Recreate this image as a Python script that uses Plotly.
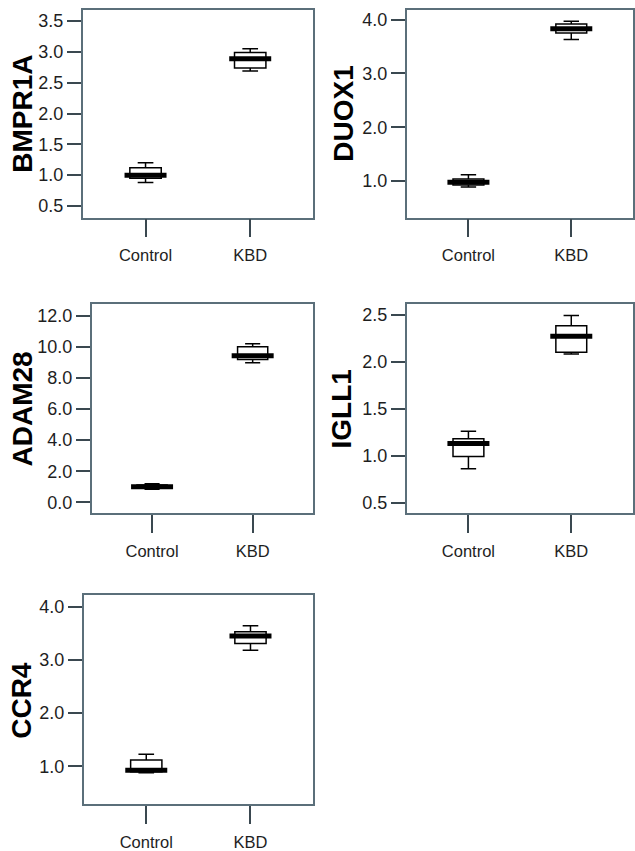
import plotly.graph_objects as go

# ---- data ----
genes = ["BMPR1A", "DUOX1", "ADAM28", "IGLL1", "CCR4"]
groups = ["Control", "KBD"]

lower_whisker = {
    "BMPR1A": [0.88, 2.69],
    "DUOX1": [0.89, 3.63],
    "ADAM28": [0.85, 8.97],
    "IGLL1": [0.86, 2.08],
    "CCR4": [0.88, 3.18],
}
q1_values = {
    "BMPR1A": [0.95, 2.74],
    "DUOX1": [0.93, 3.75],
    "ADAM28": [0.92, 9.18],
    "IGLL1": [0.99, 2.10],
    "CCR4": [0.90, 3.31],
}
median_values = {
    "BMPR1A": [1.00, 2.89],
    "DUOX1": [0.98, 3.83],
    "ADAM28": [1.00, 9.42],
    "IGLL1": [1.13, 2.27],
    "CCR4": [0.93, 3.45],
}
q3_values = {
    "BMPR1A": [1.12, 2.99],
    "DUOX1": [1.04, 3.92],
    "ADAM28": [1.12, 10.00],
    "IGLL1": [1.18, 2.38],
    "CCR4": [1.12, 3.53],
}
upper_whisker = {
    "BMPR1A": [1.20, 3.05],
    "DUOX1": [1.12, 3.97],
    "ADAM28": [1.20, 10.20],
    "IGLL1": [1.26, 2.49],
    "CCR4": [1.23, 3.64],
}
y_ticks = {
    "BMPR1A": [0.5, 1.0, 1.5, 2.0, 2.5, 3.0, 3.5],
    "DUOX1": [1.0, 2.0, 3.0, 4.0],
    "ADAM28": [0.0, 2.0, 4.0, 6.0, 8.0, 10.0, 12.0],
    "IGLL1": [0.5, 1.0, 1.5, 2.0, 2.5],
    "CCR4": [1.0, 2.0, 3.0, 4.0],
}

# ---- layout / style ----
W, H = 635, 851
y_ranges = {
    "BMPR1A": [0.31, 3.68],
    "DUOX1": [0.32, 4.18],
    "ADAM28": [-0.68, 12.74],
    "IGLL1": [0.39, 2.61],
    "CCR4": [0.29, 4.21],
}
# pixel boxes (left, right, top, bottom)
panels = {
    "BMPR1A": (83, 314, 10, 219),
    "DUOX1": (408, 635, 10, 219),
    "ADAM28": (92, 314, 306, 516),
    "IGLL1": (408, 635, 306, 516),
    "CCR4": (84, 314, 599, 809),
}
title_x = {"BMPR1A": 23, "DUOX1": 345, "ADAM28": 23, "IGLL1": 343, "CCR4": 22}

FONT = "Liberation Sans, Arial, Helvetica, sans-serif"
FRAME = "#5b6f7a"
TEXT = "#1e1e1e"

fig = go.Figure()
layout = dict(
    width=W, height=H,
    margin=dict(l=0, r=0, t=0, b=0),
    paper_bgcolor="white", plot_bgcolor="white",
    showlegend=False,
    font=dict(family=FONT, color=TEXT),
    annotations=[],
)

for i, g in enumerate(genes):
    n = "" if i == 0 else str(i + 1)
    xa, ya = "x" + n, "y" + n
    l, r, t, b = panels[g]
    fig.add_trace(go.Box(
        x=groups,
        q1=q1_values[g], median=median_values[g], q3=q3_values[g],
        lowerfence=lower_whisker[g], upperfence=upper_whisker[g],
        xaxis=xa, yaxis=ya,
        fillcolor="white",
        line=dict(color="black", width=1.5),
        width=0.3, whiskerwidth=0.5,
        boxpoints=False, hoverinfo="skip",
    ))
    # thick SPSS-style median bar
    fig.add_trace(go.Scatter(
        x=groups, y=median_values[g], xaxis=xa, yaxis=ya,
        mode="markers",
        marker=dict(symbol="line-ew", size=30,
                    line=dict(color="black", width=5)),
        hoverinfo="skip",
    ))
    layout["xaxis" + n] = dict(
        domain=[l / W, r / W], anchor=ya,
        type="category", range=[-0.6, 1.6],
        showline=True, mirror=True, linecolor=FRAME, linewidth=1.5,
        ticks="outside", ticklen=18, tickwidth=1.5, tickcolor="#3a4850",
        showgrid=False, zeroline=False,
        tickfont=dict(family=FONT, size=16.5, color=TEXT),
        ticklabelstandoff=4,
        fixedrange=True,
    )
    layout["yaxis" + n] = dict(
        domain=[1 - b / H, 1 - t / H], anchor=xa,
        range=y_ranges[g],
        tickvals=y_ticks[g], tickformat=".1f",
        showline=True, mirror=True, linecolor=FRAME, linewidth=1.5,
        ticks="outside", ticklen=14, tickwidth=1.5, tickcolor="#3a4850",
        showgrid=False, zeroline=False,
        tickfont=dict(family=FONT, size=18, color=TEXT),
        fixedrange=True,
    )
    layout["annotations"].append(dict(
        text="<b>%s</b>" % g, textangle=-90,
        x=title_x[g] / W, y=1 - (t + b) / 2 / H,
        xref="paper", yref="paper",
        xanchor="center", yanchor="middle", showarrow=False,
        font=dict(family=FONT, size=28, color="black"),
    ))

fig.update_layout(**layout)
fig.write_html(
    "out.html",
    config={"displayModeBar": False},
    post_script="document.body.style.margin='0';document.body.style.overflow='hidden';",
)
